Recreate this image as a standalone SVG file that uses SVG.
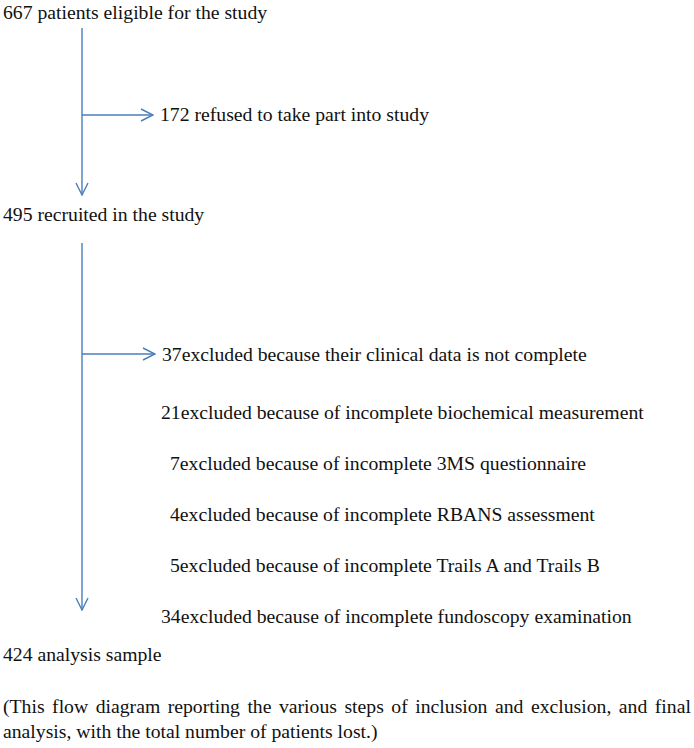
<svg xmlns="http://www.w3.org/2000/svg" width="694" height="748" viewBox="0 0 694 748">
<style>
text{font-family:'Liberation Serif','Times New Roman',Times,serif;font-size:19.7px;fill:#111}
.c{stroke:#4a7ebb;stroke-width:1.4;fill:none}
</style>
<defs>
<marker id="ah" viewBox="0 0 14 14" refX="13" refY="7" markerWidth="14" markerHeight="14" markerUnits="userSpaceOnUse" orient="auto">
<path d="M1,1 L13,7 L1,13" stroke="#4a7ebb" stroke-width="1.4" fill="none"/>
</marker>
</defs>
<rect width="694" height="748" fill="#fff"/>
<g id="connectors">
<line class="c" x1="82" y1="28" x2="82" y2="195" marker-end="url(#ah)"/>
<line class="c" x1="82" y1="115" x2="153" y2="115" marker-end="url(#ah)"/>
<line class="c" x1="82" y1="243" x2="82" y2="610" marker-end="url(#ah)"/>
<line class="c" x1="82" y1="354" x2="155" y2="354" marker-end="url(#ah)"/>
</g>
<g id="n1"><text x="3" y="19">667 patients eligible for the study</text></g>
<g id="n2"><text x="160" y="121">172 refused to take part into study</text></g>
<g id="n3"><text x="3" y="221">495 recruited in the study</text></g>
<g id="n4"><text x="162" y="361">37excluded because their clinical data is not complete</text></g>
<g id="n5"><text x="161" y="419">21excluded because of incomplete biochemical measurement</text></g>
<g id="n6"><text x="170" y="470">7excluded because of incomplete 3MS questionnaire</text></g>
<g id="n7"><text x="170" y="521">4excluded because of incomplete RBANS assessment</text></g>
<g id="n8"><text x="170" y="572">5excluded because of incomplete Trails A and Trails B</text></g>
<g id="n9"><text x="161" y="623">34excluded because of incomplete fundoscopy examination</text></g>
<g id="n10"><text x="3" y="661">424 analysis sample</text></g>
<g id="caption">
<text x="3" y="713" word-spacing="2.6">(This flow diagram reporting the various steps of inclusion and exclusion, and final</text>
<text x="3" y="738">analysis, with the total number of patients lost.)</text>
</g>
</svg>
